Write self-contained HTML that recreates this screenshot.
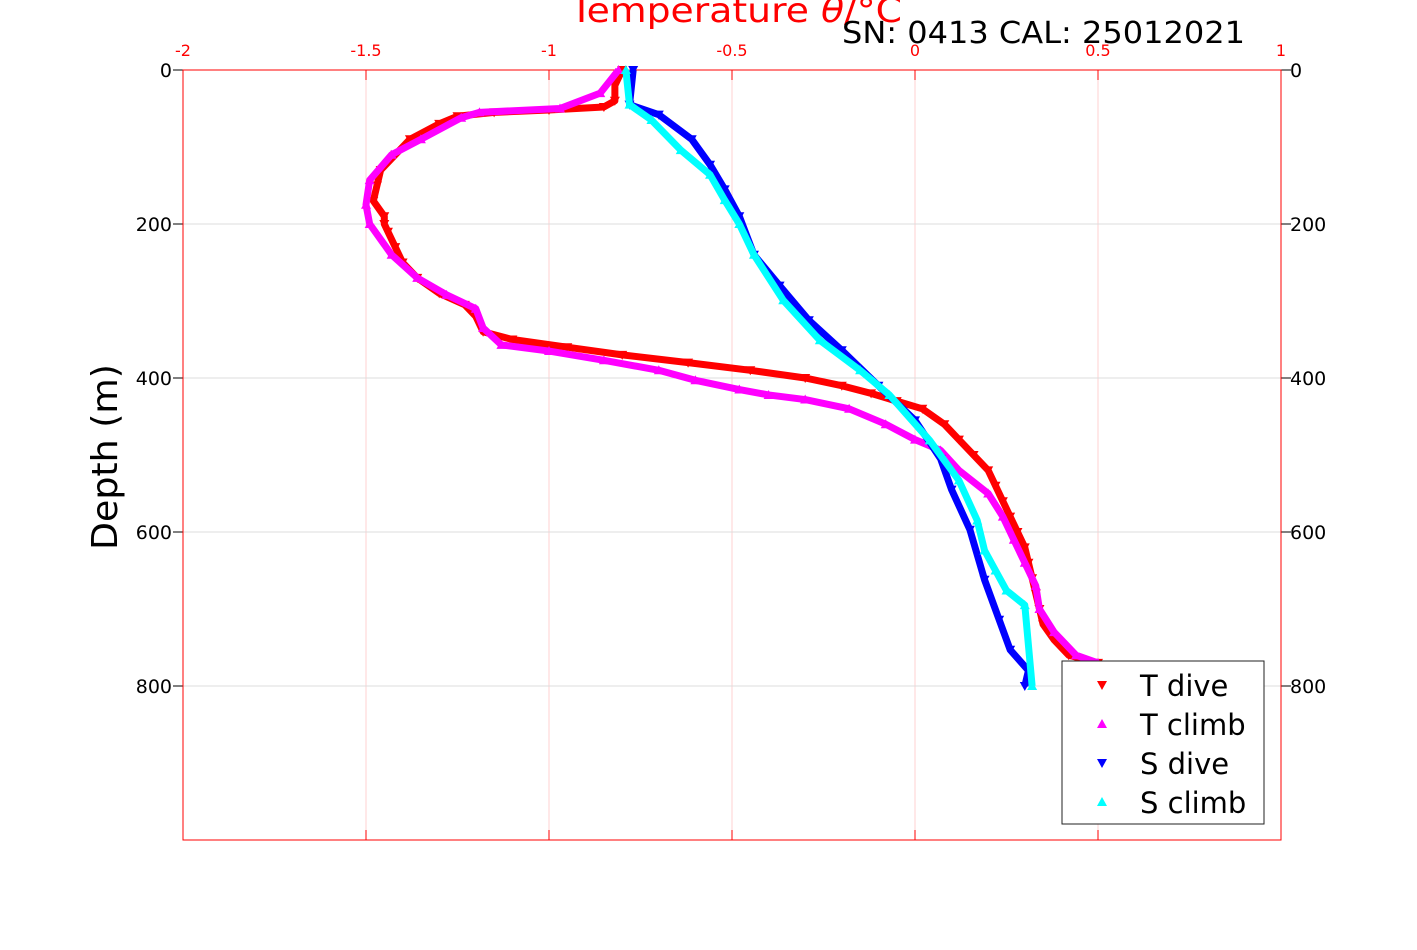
<!DOCTYPE html>
<html><head><meta charset="utf-8"><style>body{margin:0;background:#fff}svg{font-family:"DejaVu Sans","Liberation Sans",sans-serif}</style></head>
<body>
<svg id="chart" width="1417" height="945" xmlns="http://www.w3.org/2000/svg"></svg>
<script>
const xTicks=[-2,-1.5,-1,-0.5,0,0.5,1];
const xTickLabels=["-2","-1.5","-1","-0.5","0","0.5","1"];
const yTicks=[0,200,400,600,800];
const tDiveDepth=[0,20,40,48,52,55,60,70,90,110,130,150,170,190,200,210,230,250,270,290,305,320,340,350,360,370,380,390,400,410,420,430,440,460,480,500,520,540,560,580,600,620,640,660,680,700,720,740,760,770];
const tDiveTemp=[-0.8,-0.82,-0.82,-0.85,-1.0,-1.15,-1.25,-1.3,-1.38,-1.42,-1.46,-1.47,-1.48,-1.45,-1.45,-1.44,-1.42,-1.4,-1.36,-1.3,-1.23,-1.2,-1.18,-1.1,-0.95,-0.8,-0.62,-0.45,-0.3,-0.2,-0.12,-0.05,0.02,0.08,0.12,0.16,0.2,0.22,0.24,0.26,0.28,0.3,0.31,0.32,0.33,0.34,0.35,0.38,0.42,0.5];
const tClimbDepth=[0,30,50,55,62,90,110,143,175,200,240,270,292,310,335,357,365,377,390,403,415,422,428,440,460,480,494,520,550,580,610,640,670,700,730,760,770];
const tClimbTemp=[-0.81,-0.86,-0.97,-1.19,-1.24,-1.35,-1.43,-1.49,-1.5,-1.49,-1.43,-1.36,-1.28,-1.2,-1.18,-1.13,-1.0,-0.85,-0.7,-0.6,-0.48,-0.4,-0.3,-0.18,-0.08,0.0,0.07,0.12,0.2,0.24,0.27,0.3,0.33,0.34,0.38,0.44,0.5];
const sDiveDepth=[0,45,58,90,123,155,190,240,280,325,364,410,455,505,545,597,662,714,753,780,800];
const sDiveTemp=[-0.77,-0.78,-0.7,-0.61,-0.56,-0.52,-0.48,-0.44,-0.37,-0.29,-0.2,-0.1,0,0.07,0.1,0.15,0.19,0.23,0.26,0.31,0.3];
const sClimbDepth=[0,45,65,104,136,169,200,240,299,351,390,422,481,533,585,624,650,676,695,800];
const sClimbTemp=[-0.79,-0.78,-0.72,-0.64,-0.56,-0.52,-0.48,-0.44,-0.36,-0.26,-0.15,-0.07,0.04,0.12,0.17,0.19,0.22,0.25,0.3,0.32];
const L=183,R=1281,T=70,B=840;
const xs=v=>L+(v+2)/3*(R-L), ys=d=>T+d/1000*(B-T);
const svg=document.getElementById('chart');const NS='http://www.w3.org/2000/svg';
function mk(tag,attrs,name,txt){const e=document.createElementNS(NS,tag);for(const k in attrs)e.setAttribute(k,attrs[k]);


if(txt!==undefined)e.textContent=txt;svg.appendChild(e);return e;}
xTicks.forEach((v,i)=>{const x=xs(v);
if(i>0&&i<xTicks.length-1)mk('line',{x1:x,x2:x,y1:T,y2:B,stroke:'#ffd0d0','stroke-width':1},'x-gridline');
mk('line',{x1:x,x2:x,y1:T,y2:T+10,stroke:'red'},'x-tick');
mk('line',{x1:x,x2:x,y1:B,y2:B-10,stroke:'red'},'x-tick-bottom');
mk('text',{x:x,y:56,'font-size':16,fill:'red','text-anchor':'middle'},'x-tick-label',xTickLabels[i]);});
yTicks.forEach(d=>{const y=ys(d);
if(d>0)mk('line',{x1:L,x2:R,y1:y,y2:y,stroke:'#dcdcdc'},'y-gridline');
mk('line',{x1:R,x2:R+10,y1:y,y2:y,stroke:'#000'},'y-tick-right');
mk('line',{x1:L-10,x2:L,y1:y,y2:y,stroke:'#000'},'y-tick-left');
mk('text',{x:172,y:y+7,'font-size':19,'text-anchor':'end'},'y-tick-label',String(d));
mk('text',{x:1290,y:y+7,'font-size':19},'y-tick-label-right',String(d));});
mk('rect',{x:L,y:T,width:R-L,height:B-T,fill:'none',stroke:'red'},'plot-frame');
function series(dep,val,color,down,name){
const pts=dep.map((d,i)=>xs(val[i])+','+ys(d)).join(' ');
mk('polyline',{points:pts,fill:'none',stroke:color,'stroke-width':7,'stroke-linejoin':'round'},name+'-line');
dep.forEach((d,i)=>{const x=xs(val[i]),y=ys(d);const p=down?`${x-5},${y-4} ${x+5},${y-4} ${x},${y+5}`:`${x-5},${y+4} ${x+5},${y+4} ${x},${y-5}`;
mk('polygon',{points:p,fill:color},name+'-marker');});}
series(tDiveDepth,tDiveTemp,'#ff0000',true,'t-dive');
series(tClimbDepth,tClimbTemp,'#ff00ff',false,'t-climb');
series(sDiveDepth,sDiveTemp,'#0000ff',true,'s-dive');
series(sClimbDepth,sClimbTemp,'#00ffff',false,'s-climb');
const tt=mk('text',{x:570,y:22,'font-size':34,fill:'red',textLength:332,lengthAdjust:'spacingAndGlyphs'},'x-axis-title');
tt.innerHTML='Temperature <tspan font-style="italic">θ</tspan>/°C';
const sn=mk('text',{x:842,y:43,'font-size':30,textLength:403,lengthAdjust:'spacingAndGlyphs'},'sensor-info','SN: 0413  CAL: 25012021');
sn.setAttribute('xml:space','preserve');
mk('text',{x:117,y:457,'font-size':36,'text-anchor':'middle',textLength:186,lengthAdjust:'spacingAndGlyphs',transform:'rotate(-90 117 457)'},'y-axis-title','Depth (m)');
mk('rect',{x:1062,y:661,width:202,height:163,fill:'#fff',stroke:'#222'},'legend-box');
const legNames=['T dive','T climb','S dive','S climb'],legCols=['#ff0000','#ff00ff','#0000ff','#00ffff'],legDown=[true,false,true,false];
legNames.forEach((n,i)=>{const y=685+i*39,x=1102;
const p=legDown[i]?`${x-5},${y-4} ${x+5},${y-4} ${x},${y+5}`:`${x-5},${y+4} ${x+5},${y+4} ${x},${y-5}`;
mk('polygon',{points:p,fill:legCols[i]},'legend-marker');
mk('text',{x:1140,y:y+11,'font-size':29},'legend-entry',n);});
</script>
</body></html>
